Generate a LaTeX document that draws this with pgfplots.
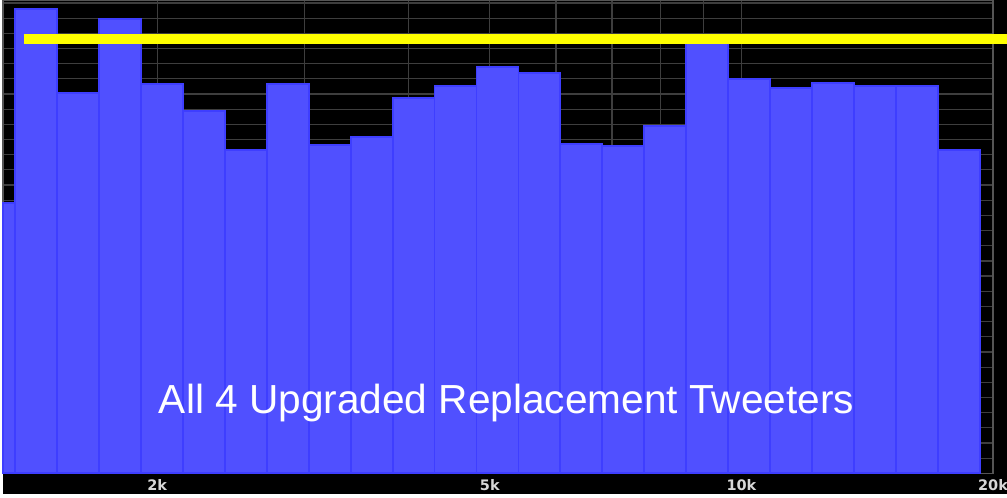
\documentclass[border=0pt]{standalone}
\usepackage{pgfplots}
\pgfplotsset{compat=1.18}
\usepackage{fontspec}
\setmainfont{Liberation Sans}
\newfontfamily\tickfont{DejaVu Sans}
\definecolor{barfill}{RGB}{80,80,255}
\definecolor{baredge}{RGB}{62,62,255}
\definecolor{gridc}{RGB}{62,62,62}
\definecolor{framec}{RGB}{85,85,85}
\definecolor{ticklab}{RGB}{215,215,215}
\begin{document}
\begin{tikzpicture}[x=1pt,y=1pt]
\path[use as bounding box] (0,0) rectangle (1007,498);
\fill[white] (0,0) rectangle (1007,498);
\fill[black] (3,4) rectangle (1007,498);
\begin{axis}[
  at={(3pt,24.7pt)}, anchor=south west,
  scale only axis, width=990pt, height=473.3pt,
  xmode=log, xmin=1308, xmax=20000,
  ymin=0, ymax=31.2,
  clip=false,
  axis background/.style={fill=black},
  axis line style={framec, line width=1.2pt},
  xtick={2000,5000,10000,20000},
  xticklabels={2k,5k,10k,20k},
  minor xtick={3000,4000,6000,7000,8000,9000},
  ytick={0,1,...,31},
  yticklabels={},
  major tick length=0pt, minor tick length=0pt,
  grid=both,
  major grid style={gridc, line width=1.2pt},
  minor grid style={gridc, line width=1.2pt},
  xticklabel style={anchor=base, yshift=-17.4pt, text=ticklab,
    font=\tickfont\bfseries\fontsize{14.5}{15}\selectfont},
]
\addplot[ybar interval, fill=barfill, draw=baredge, line width=1.8pt]
coordinates {
(1308, 17.82)
(1352.6, 30.61)
(1518.3, 25.09)
(1704.2, 29.97)
(1913.0, 25.66)
(2147.3, 23.90)
(2410.2, 21.31)
(2705.2, 25.66)
(3036.5, 21.64)
(3408.4, 22.17)
(3825.9, 24.76)
(4294.4, 25.51)
(4820.3, 26.76)
(5410.4, 26.37)
(6073.0, 21.73)
(6816.8, 21.58)
(7651.8, 22.89)
(8588.8, 28.63)
(9640.6, 25.99)
(10821, 25.40)
(12146, 25.75)
(13634, 25.55)
(15304, 25.55)
(17178, 21.31)
(19281, 21.31)
};
\addplot[draw={rgb,255:red,255;green,255;blue,0}, line width=10pt, line cap=butt]
coordinates {(1384, 28.61) (20820, 28.61)};
\end{axis}
\node[anchor=base, text=white, font=\fontsize{40.6}{43}\selectfont] at (506.5,84.7)
  {All 4 Upgraded Replacement Tweeters};
\end{tikzpicture}
\end{document}
